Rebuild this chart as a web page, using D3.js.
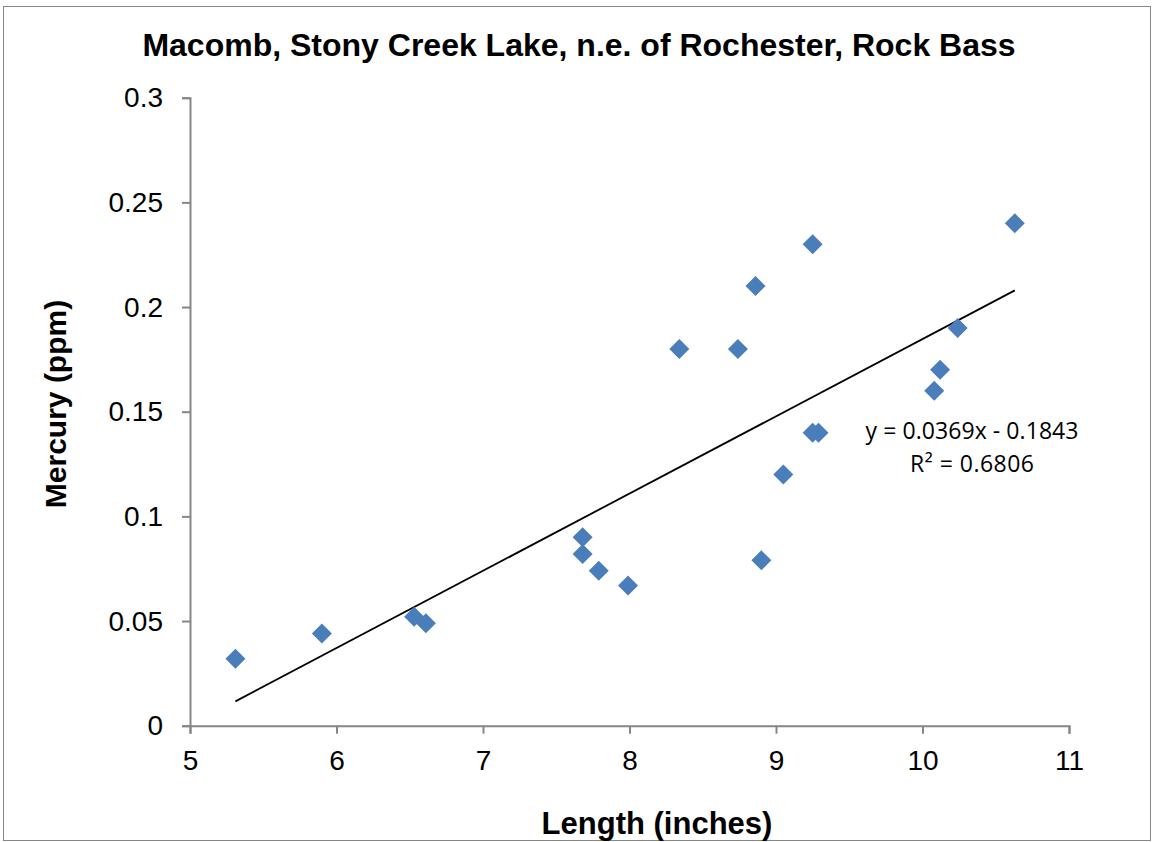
<!DOCTYPE html>
<html>
<head>
<meta charset="utf-8">
<script src="https://cdn.jsdelivr.net/npm/d3@7"></script>
<style>
  body { margin: 0; background: #fff; }
  text { font-family: "Liberation Sans", Arial, sans-serif; }
</style>
</head>
<body>
<div id="chart"></div>
<script>
let w = 1156;
let h = 842;

// data
let lengths = [5.31, 5.90, 6.53, 6.61, 7.68, 7.68, 7.79, 7.99, 8.34, 8.74,
               8.86, 8.90, 9.05, 9.25, 9.25, 9.29, 10.08, 10.12, 10.24, 10.63];
let mercury = [0.032, 0.044, 0.052, 0.049, 0.090, 0.082, 0.074, 0.067, 0.18, 0.18,
               0.21, 0.079, 0.12, 0.23, 0.14, 0.14, 0.16, 0.17, 0.19, 0.24];
let xTicks = [5, 6, 7, 8, 9, 10, 11];
let yTicks = [0, 0.05, 0.1, 0.15, 0.2, 0.25, 0.3];
let slope = 0.0369;
let intercept = -0.1843;
let equation = "y = 0.0369x - 0.1843";
let rSquared = "R² = 0.6806";

let points = lengths.map((d, i) => ({x: d, y: mercury[i]}));

let svg = d3.select("#chart").append("svg")
  .attr("width", w)
  .attr("height", h);

// outer chart border
svg.append("rect")
  .attr("x", 3.5).attr("y", 6.5)
  .attr("width", 1147).attr("height", 834)
  .attr("fill", "white")
  .attr("stroke", "#868686")
  .attr("stroke-width", 1);

let xScale = d3.scaleLinear().domain([5, 11]).range([190, 1069]);
let yScale = d3.scaleLinear().domain([0, 0.3]).range([725.7, 97.7]);

// axes
let xAxis = d3.axisBottom(xScale).tickValues(xTicks).tickSize(8).tickSizeOuter(8).tickPadding(8)
  .tickFormat(d3.format("d"));
let yAxis = d3.axisLeft(yScale).tickValues(yTicks).tickSize(8).tickSizeOuter(8).tickPadding(19)
  .tickFormat(d => String(+d.toFixed(2)));

let gx = svg.append("g")
  .attr("transform", "translate(0," + yScale(0) + ")")
  .call(xAxis);
let gy = svg.append("g")
  .attr("transform", "translate(" + xScale(5) + ",0)")
  .call(yAxis);

[gx, gy].forEach(g => {
  g.select(".domain").attr("stroke", "#868686").attr("stroke-width", 2);
  g.selectAll(".tick line").attr("stroke", "#868686").attr("stroke-width", 2);
  g.selectAll(".tick text")
    .attr("fill", "#000")
    .style("font-family", "'Liberation Sans', Arial, sans-serif")
    .style("font-size", "28px");
});
gx.selectAll(".tick text").attr("dy", null).attr("y", 44);

// trendline
let xs = d3.extent(lengths);
svg.append("line")
  .attr("x1", xScale(xs[0])).attr("y1", yScale(slope * xs[0] + intercept))
  .attr("x2", xScale(xs[1])).attr("y2", yScale(slope * xs[1] + intercept))
  .attr("stroke", "black")
  .attr("stroke-width", 1.8);

// diamond markers
let diamond = d3.symbol().type(d3.symbolSquare).size(200);
svg.selectAll(".datapoint").data(points).enter()
  .append("path")
  .attr("class", "datapoint")
  .attr("d", diamond)
  .attr("transform", d => "translate(" + xScale(d.x) + "," + yScale(d.y) + ") rotate(45)")
  .attr("fill", "#4a7ebb");

// equation label
svg.append("text")
  .attr("x", 972).attr("y", 439)
  .attr("text-anchor", "middle")
  .attr("textLength", 213)
  .style("font-family", "'Open Sans', sans-serif")
  .style("font-size", "23px")
  .text(equation);
svg.append("text")
  .attr("x", 972).attr("y", 472)
  .attr("text-anchor", "middle")
  .attr("textLength", 124)
  .style("font-family", "'Open Sans', sans-serif")
  .style("font-size", "23px")
  .text(rSquared);

// title
svg.append("text")
  .attr("x", 579).attr("y", 56)
  .attr("text-anchor", "middle")
  .style("font-weight", "bold")
  .style("font-size", "32px")
  .text("Macomb, Stony Creek Lake, n.e. of Rochester, Rock Bass");

// axis titles
svg.append("text")
  .attr("x", 657).attr("y", 834)
  .attr("text-anchor", "middle")
  .style("font-weight", "bold")
  .style("font-size", "31px")
  .text("Length (inches)");

svg.append("text")
  .attr("transform", "translate(66,404) rotate(-90)")
  .attr("text-anchor", "middle")
  .style("font-weight", "bold")
  .style("font-size", "30px")
  .text("Mercury (ppm)");
</script>
</body>
</html>
